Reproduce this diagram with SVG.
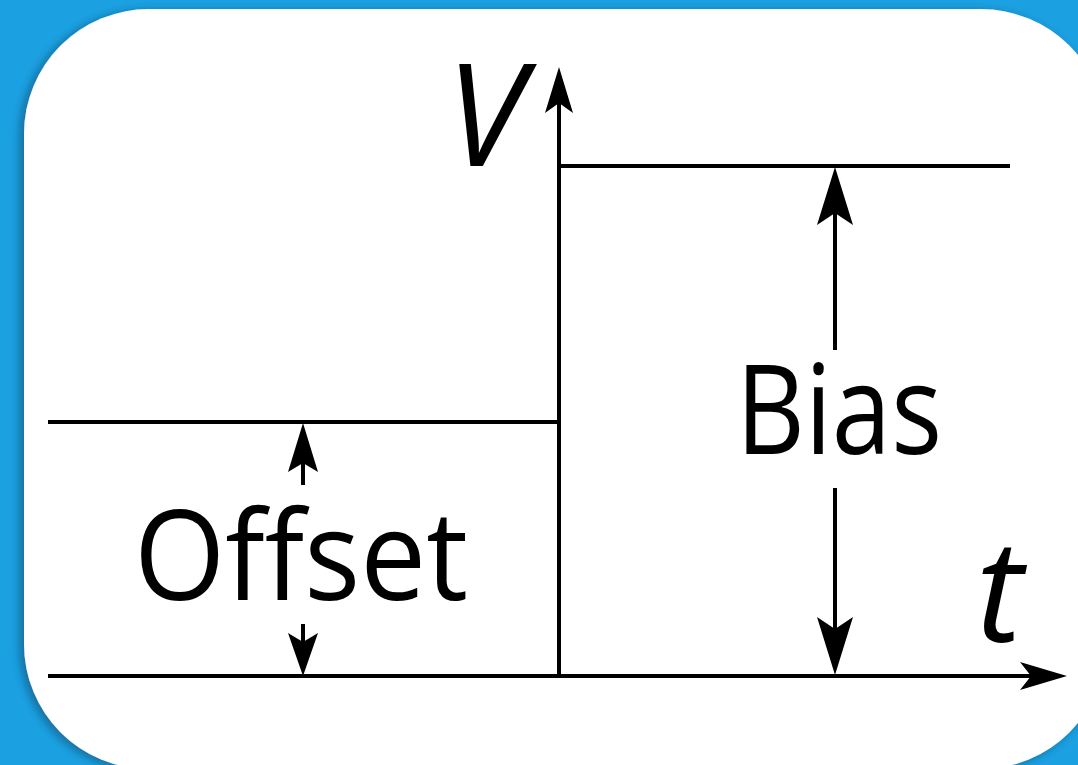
<svg xmlns="http://www.w3.org/2000/svg" width="1078" height="765" viewBox="0 0 1078 765">
<defs>
<filter id="sh" x="-10%" y="-10%" width="120%" height="120%">
<feDropShadow dx="-4" dy="2" stdDeviation="5" flood-color="#0b3a5a" flood-opacity="0.55"/>
</filter>
<style>
.ln{stroke:#000;stroke-width:4;fill:none;stroke-linecap:butt}
.ah{fill:#000;stroke:none}
.lbl{font-family:"Open Sans","Noto Sans","Liberation Sans",sans-serif;fill:#000;font-weight:400}
.it{font-style:italic}
</style>
</defs>
<rect x="0" y="0" width="1078" height="765" fill="#1ba1e2"/>
<rect x="24" y="9" width="1082" height="760" rx="125" ry="125" fill="#fff" filter="url(#sh)"/>
<g id="connectors">
<line class="ln" x1="48" y1="676" x2="1035" y2="676"/>
<path class="ah" d="M1067,676 L1020,662 L1031,676 L1020,690 Z"/>
<line class="ln" x1="559" y1="678" x2="559" y2="100"/>
<path class="ah" d="M559,67 L545,113 L559,103 L573,113 Z"/>
<line class="ln" x1="559" y1="166" x2="1010" y2="166"/>
<line class="ln" x1="48" y1="422" x2="559" y2="422"/>
<line class="ln" x1="303" y1="455" x2="303" y2="485"/>
<path class="ah" d="M303,423 L288,472 L303,463 L318,472 Z"/>
<line class="ln" x1="303" y1="624" x2="303" y2="645"/>
<path class="ah" d="M303,676 L288,633 L303,642 L318,633 Z"/>
<line class="ln" x1="835" y1="200" x2="835" y2="350"/>
<path class="ah" d="M835,167 L817,225 L835,213 L853,225 Z"/>
<line class="ln" x1="835" y1="488" x2="835" y2="630"/>
<path class="ah" d="M835,675 L817,617 L835,629 L853,617 Z"/>
</g>
<g id="label-V"><text class="lbl it" x="446" y="166" font-size="142">V</text></g>
<g id="label-t"><text class="lbl it" x="976" y="642" font-size="142">t</text></g>
<g id="label-offset"><text class="lbl" x="134" y="600" font-size="124" textLength="334" lengthAdjust="spacingAndGlyphs">Offset</text></g>
<g id="label-bias"><text class="lbl" x="736" y="454" font-size="124" textLength="206" lengthAdjust="spacingAndGlyphs">Bias</text></g>
</svg>
